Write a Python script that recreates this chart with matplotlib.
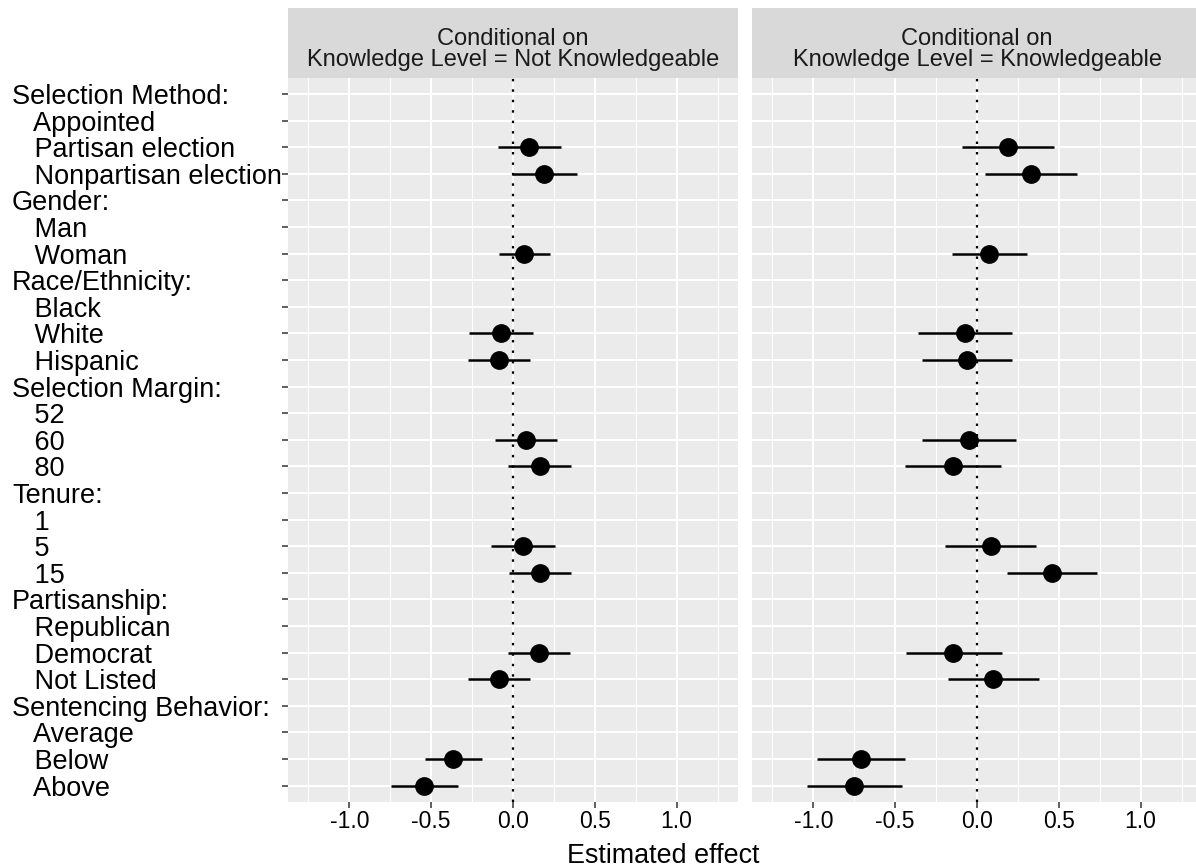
import numpy as np
import matplotlib
matplotlib.use("Agg")
import matplotlib.pyplot as plt

plt.rcParams['font.family'] = ['Liberation Sans', 'DejaVu Sans']

# rows from top to bottom; headers end with ':'
levels = [
    "Selection Method:", "Appointed", "Partisan election", "Nonpartisan election",
    "Gender:", "Man", "Woman",
    "Race/Ethnicity:", "Black", "White", "Hispanic",
    "Selection Margin:", "52", "60", "80",
    "Tenure:", "1", "5", "15",
    "Partisanship:", "Republican", "Democrat", "Not Listed",
    "Sentencing Behavior:", "Average", "Below", "Above",
]

nan = np.nan
# not knowledgeable respondents
nk_est = [nan, nan, 0.100, 0.190, nan, nan, 0.066, nan, nan, -0.076, -0.087, nan, nan, 0.078, 0.162,
          nan, nan, 0.060, 0.164, nan, nan, 0.157, -0.088, nan, nan, -0.367, -0.544]
nk_lo = [nan, nan, -0.090, -0.005, nan, nan, -0.088, nan, nan, -0.271, -0.273, nan, nan, -0.107, -0.030,
         nan, nan, -0.133, -0.025, nan, nan, -0.030, -0.277, nan, nan, -0.540, -0.747]
nk_hi = [nan, nan, 0.294, 0.389, nan, nan, 0.224, nan, nan, 0.123, 0.105, nan, nan, 0.267, 0.355,
         nan, nan, 0.255, 0.357, nan, nan, 0.350, 0.105, nan, nan, -0.190, -0.336]

# knowledgeable respondents
k_est = [nan, nan, 0.189, 0.329, nan, nan, 0.073, nan, nan, -0.075, -0.061, nan, nan, -0.049, -0.148,
         nan, nan, 0.084, 0.460, nan, nan, -0.144, 0.100, nan, nan, -0.709, -0.750]
k_lo = [nan, nan, -0.091, 0.047, nan, nan, -0.154, nan, nan, -0.362, -0.337, nan, nan, -0.335, -0.439,
        nan, nan, -0.195, 0.185, nan, nan, -0.433, -0.177, nan, nan, -0.976, -1.037]
k_hi = [nan, nan, 0.472, 0.612, nan, nan, 0.303, nan, nan, 0.212, 0.216, nan, nan, 0.238, 0.146,
        nan, nan, 0.362, 0.736, nan, nan, 0.151, 0.376, nan, nan, -0.439, -0.459]

panel_titles = [
    "Conditional on\nKnowledge Level = Not Knowledgeable",
    "Conditional on\nKnowledge Level = Knowledgeable",
]
x_ticks = [-1.0, -0.5, 0.0, 0.5, 1.0]

W, H = 1196, 868
fig = plt.figure(figsize=(W / 100, H / 100), dpi=100)

tick_labels = [lab if lab.endswith(":") else "   " + lab for lab in levels]
ypos = np.arange(len(levels))

panels = [(288, nk_est, nk_lo, nk_hi), (752, k_est, k_lo, k_hi)]
pw = 450
top, bottom = 78, 801.6

for i, (px, est, lo, hi) in enumerate(panels):
    ax = fig.add_axes([px / W, (H - bottom) / H, pw / W, (bottom - top) / H])
    ax.set_facecolor("#EBEBEB")
    for s in ax.spines.values():
        s.set_visible(False)
    ax.set_xlim(-1.375, 1.375)
    ax.set_ylim(len(levels) - 0.4, -0.6)

    # grid
    for xm in [-1.25, -0.75, -0.25, 0.25, 0.75, 1.25]:
        ax.axvline(xm, color="white", lw=0.75, zorder=0)
    for xm in x_ticks:
        ax.axvline(xm, color="white", lw=1.45, zorder=0.5)
    for y in ypos:
        ax.axhline(y, color="white", lw=1.45, zorder=0.5)

    ax.axvline(0, color="black", lw=1.6, ls=(0, (1.1, 3.6)), zorder=1)

    est = np.array(est)
    lo = np.array(lo)
    hi = np.array(hi)
    ok = ~np.isnan(est)
    ax.hlines(ypos[ok], lo[ok], hi[ok], color="black", lw=1.8, zorder=2)
    ax.plot(est[ok], ypos[ok], "o", color="black", ms=12.5, zorder=3)

    ax.set_xticks(x_ticks)
    ax.set_xticklabels([f"{v:.1f}" for v in x_ticks], fontsize=16.5, color="black")
    ax.tick_params(axis="x", length=4, width=1.2, color="#444444", pad=2)
    ax.set_yticks(ypos)
    if i == 0:
        ax.set_yticklabels(tick_labels, fontsize=19.5, color="black", ha="left")
        ax.tick_params(axis="y", length=4, width=1.2, color="#444444", pad=270.5 * 0.72)
    else:
        ax.tick_params(axis="y", length=0, labelleft=False)

    # facet strip
    sax = fig.add_axes([px / W, (H - top + 0.5) / H, pw / W, 70 / H])
    sax.set_facecolor("#D9D9D9")
    sax.set_xticks([])
    sax.set_yticks([])
    for s in sax.spines.values():
        s.set_visible(False)
    sax.text(0.5, 0.40, panel_titles[i], ha="center", va="center", fontsize=17,
             color="#1A1A1A", linespacing=0.95, transform=sax.transAxes)

fig.text(663 / W, (H - 856) / H, "Estimated effect", ha="center", va="center",
         fontsize=19.4, color="black")

fig.savefig("out.png", dpi=100)
